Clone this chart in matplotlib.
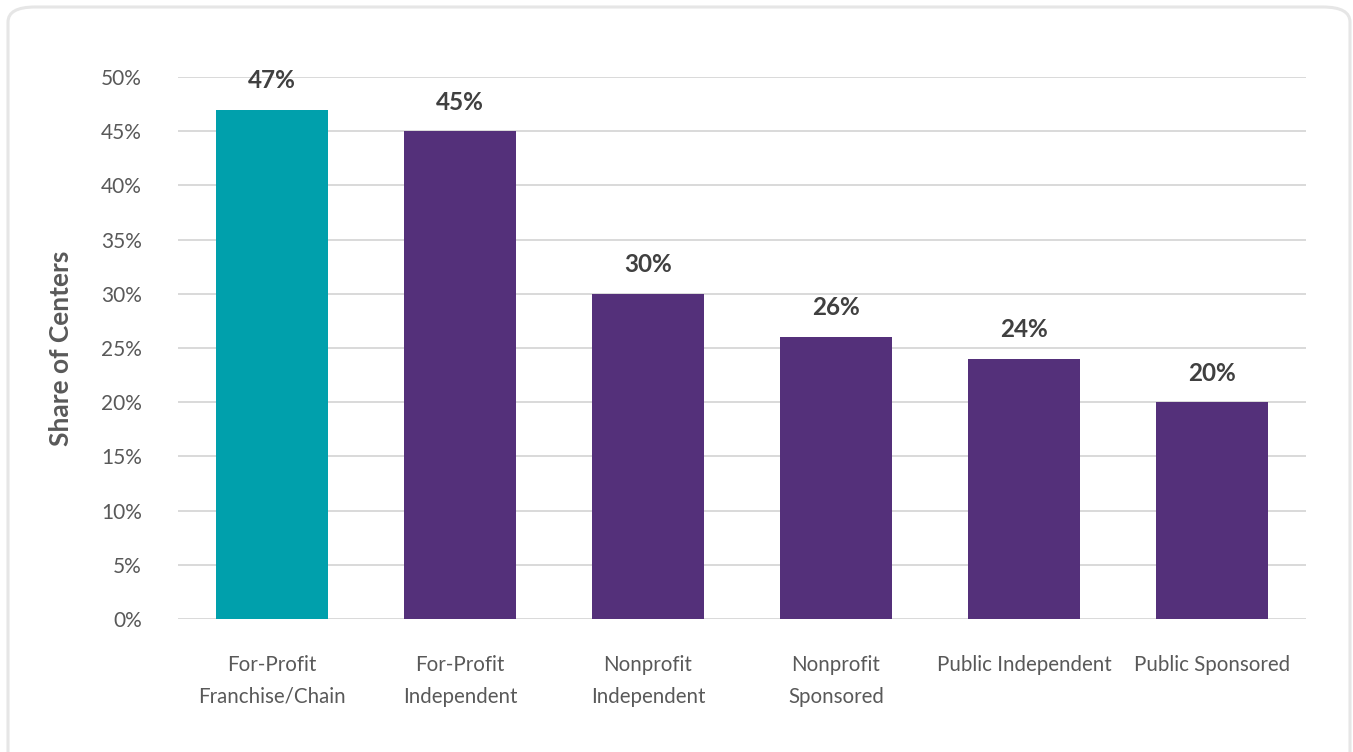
import matplotlib.pyplot as plt
from matplotlib.patches import FancyBboxPatch
from matplotlib.ticker import FuncFormatter

categories = ["For-Profit\nFranchise/Chain", "For-Profit\nIndependent",
              "Nonprofit\nIndependent", "Nonprofit\nSponsored",
              "Public Independent", "Public Sponsored"]
shares = [47, 45, 30, 26, 24, 20]
colors = ["#00A0AC", "#54307A", "#54307A", "#54307A", "#54307A", "#54307A"]
yticks = list(range(0, 55, 5))

plt.rcParams["font.family"] = ["Lato", "DejaVu Sans"]

fig = plt.figure(figsize=(13.53, 7.52), dpi=100)
ax = fig.add_axes([0.1316, 0.1769, 0.8337, 0.7207])

# rounded frame around the chart
frame = FancyBboxPatch((8 / 1353, -0.02), 1342 / 1353, 1.0 - 7 / 752 + 0.02,
                       boxstyle="round,pad=0,rounding_size=0.02",
                       transform=fig.transFigure, facecolor="none",
                       edgecolor="#e6e6e6", linewidth=2.2, clip_on=False)
fig.patches.append(frame)

x = range(len(categories))
ax.bar(x, shares, width=0.6, color=colors, zorder=3)

for xi, v in zip(x, shares):
    ax.annotate(f"{v}%", (xi, v), xytext=(0, 21), textcoords="offset points",
                ha="center", va="center", fontsize=17.5, fontweight="bold",
                color="#404040")

ax.set_xlim(-0.5, len(categories) - 0.5)
ax.set_ylim(0, 50)
ax.set_yticks(yticks)
ax.yaxis.set_major_formatter(FuncFormatter(lambda v, p: f"{v:.0f}%"))
ax.set_xticks(list(x))
ax.set_xticklabels(categories, fontsize=14.8, color="#595959", linespacing=1.72)
ax.tick_params(axis="y", labelsize=15, labelcolor="#595959", length=0, pad=26)
ax.tick_params(axis="x", length=0, pad=26)
ax.grid(axis="y", color="#d9d9d9", linewidth=1.4, zorder=0)
ax.set_axisbelow(True)
for s in ["top", "right", "left", "bottom"]:
    ax.spines[s].set_visible(False)

ax.set_ylabel("Share of Centers", fontsize=19, fontweight="bold",
              color="#595959", labelpad=20)

fig.savefig("out.png", dpi=100)
